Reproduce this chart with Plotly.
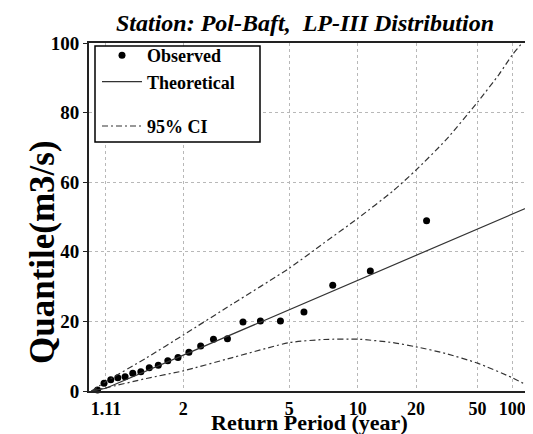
import numpy as np
import plotly.graph_objects as go

# ---------------- data ----------------
obs_T = [23.0, 11.5, 7.667, 5.75, 4.6, 3.833, 3.286, 2.875, 2.556, 2.3, 2.091,
         1.917, 1.769, 1.643, 1.533, 1.438, 1.353, 1.278, 1.211, 1.15, 1.095, 1.045]
obs_Q = [48.9, 34.5, 30.4, 22.7, 20.1, 20.1, 19.8, 15.0, 14.9, 12.9, 11.1,
         9.6, 8.7, 7.4, 6.7, 5.5, 5.1, 4.1, 3.8, 3.2, 2.2, 0.3]

theo_T = [1.0, 1.11, 2, 5, 10, 20, 50, 100, 180]
theo_Q = [0.0, 0.8, 10.3, 23.4, 31.8, 39.0, 46.5, 50.8, 53.5]

ci_up_T = [1.0, 1.11, 1.5, 2, 3, 5, 7, 10, 15, 20, 30, 50, 75, 100, 131, 160]
ci_up_Q = [0.0, 2.7, 9.5, 16.1, 25.0, 35.3, 42.5, 49.6, 57.5, 63.5, 72.0, 83.0, 91.0, 96.6, 100.4, 104.0]

ci_lo_T = [1.0, 1.11, 1.5, 2, 3, 5, 7, 10, 15, 20, 30, 50, 100, 180]
ci_lo_Q = [0.0, 0.9, 3.6, 5.8, 9.6, 13.9, 14.8, 14.9, 13.9, 12.7, 10.8, 8.0, 3.8, 0.6]

tick_T = [1.11, 2, 5, 10, 20, 50, 100]
tick_text = ["1.11", "2", "5", "10", "20", "50", "100"]


# probability-paper style return-period axis
def rp_axis(T):
    u = np.log10(np.asarray(T, dtype=float)) - 1.0
    return u - 0.2657 * u ** 2


FONT = "Liberation Serif, Times New Roman, serif"
GRID = "#b8b8b8"
OFF = 8  # page body margin of the html page

W, H = 533 - OFF, 434 - OFF
L, T_, B = 89 - OFF, 43 - OFF, H - (391 - OFF)
pw, ph = W - L, H - T_ - B


def px_x(p):  # page pixel -> paper x
    return (p - 89) / pw


def px_y(p):  # page pixel -> paper y
    return (391 - p) / ph


fig = go.Figure()
fig.add_trace(go.Scatter(
    x=rp_axis(obs_T), y=obs_Q, mode="markers", name="Observed", legendgroup="a",
    marker=dict(color="black", size=7), cliponaxis=False))
fig.add_trace(go.Scatter(
    x=rp_axis(theo_T), y=theo_Q, mode="lines", name="Theoretical", legendgroup="a",
    line=dict(color="#333333", width=1.2)))
fig.add_trace(go.Scatter(
    x=rp_axis(ci_up_T), y=ci_up_Q, mode="lines", name="95% CI", legendgroup="b",
    line=dict(color="#333333", width=1.2, dash="6px,3px,2px,3px", shape="spline", smoothing=0.6)))
fig.add_trace(go.Scatter(
    x=rp_axis(ci_lo_T), y=ci_lo_Q, mode="lines", name="95% CI", showlegend=False, legendgroup="b",
    line=dict(color="#333333", width=1.2, dash="6px,3px,2px,3px", shape="spline", smoothing=0.6)))

fig.update_layout(
    width=W, height=H,
    margin=dict(l=L, r=0, t=T_, b=B, autoexpand=False),
    paper_bgcolor="white", plot_bgcolor="white",
    font=dict(family=FONT, color="black"),
    title=dict(text="<b><i>Station: Pol-Baft,&nbsp; LP-III Distribution</i></b>",
               x=(305 - OFF) / W, xanchor="center", y=1 - (23 - OFF) / H, yanchor="middle",
               font=dict(size=24, family=FONT, color="black")),
    showlegend=True,
    legend=dict(x=px_x(97), y=px_y(37), xanchor="left", yanchor="top",
                bgcolor="rgba(0,0,0,0)", borderwidth=0,
                font=dict(size=18, family=FONT, color="black", weight="bold"),
                itemwidth=40, traceorder="grouped", tracegroupgap=18),
    xaxis=dict(range=[float(rp_axis(0.983)), 0.8327],
               tickvals=rp_axis(tick_T), ticktext=tick_text,
               tickfont=dict(size=18, family=FONT, color="black", weight="bold"),
               showgrid=True, gridcolor=GRID, griddash="dot", gridwidth=1,
               showline=True, linecolor="#222222", linewidth=2, mirror=True,
               ticks="", zeroline=False, automargin=False),
    yaxis=dict(range=[0, 100], tickvals=[0, 20, 40, 60, 80, 100],
               tickfont=dict(size=19, family=FONT, color="black", weight="bold"),
               showgrid=True, gridcolor=GRID, griddash="dot", gridwidth=1,
               showline=True, linecolor="#222222", linewidth=2, mirror=False,
               ticks="outside", ticklen=4, tickcolor="#222222", zeroline=False,
               automargin=False),
)

# legend frame
fig.add_shape(type="rect", xref="paper", yref="paper",
              x0=px_x(95), x1=px_x(260), y0=px_y(142), y1=px_y(46),
              line=dict(color="black", width=1.5), fillcolor="white", layer="above")

fig.add_annotation(text="<b>Return Period (year)</b>", xref="paper", yref="paper",
                   x=px_x(309), y=px_y(422), xanchor="center", yanchor="middle",
                   showarrow=False, font=dict(size=22, family=FONT, color="black"))
fig.add_annotation(text="<b>Quantile(m3/s)</b>", xref="paper", yref="paper",
                   x=px_x(42), y=px_y(252), xanchor="center", yanchor="middle",
                   textangle=-90, showarrow=False, font=dict(size=35, family=FONT, color="black"))

fig.write_html("out.html")
